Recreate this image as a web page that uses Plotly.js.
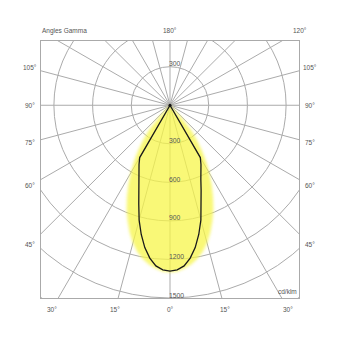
<!DOCTYPE html>
<html>
<head>
<meta charset="utf-8">
<script src="https://cdn.plot.ly/plotly-3.0.1.min.js"></script>
<style>
html,body{margin:0;padding:0;background:#fff;}
#chart .scatterlayer .trace:first-child path.js-fill{filter:blur(1.8px);}
</style>
</head>
<body>
<div id="chart" style="width:340px;height:340px"></div>
<script>
// Gamma angles (degrees from the downward vertical)
const gammaAngles = [0, 2.5, 5, 7.5, 10, 12.5, 15, 17.5, 20, 22.5, 25, 27.5, 30, 32.5, 35, 37.5, 40, 42.5, 45];
// Plane drawn as black line (cd/klm)
const planeLine = [1290, 1282, 1255, 1200, 1125, 1030, 925, 805, 705, 625, 570, 520, 470, 0, 0, 0, 0, 0, 0];
// Plane drawn as yellow filled area (cd/klm)
const planeFill = [1300, 1295, 1275, 1250, 1215, 1170, 1110, 1040, 960, 880, 790, 700, 610, 520, 430, 345, 260, 130, 0];
// Grid rings (cd/klm) and their labels
const ringValues = [300, 600, 900, 1200, 1500, 1800];
const ringLabelsBelow = [300, 600, 900, 1200, 1500];
const ringLabelsAbove = [300];
// Radial gamma lines
const spokeAngles = [0,15,30,45,60,75,90,105,120,135,150,165,180,195,210,225,240,255,270,285,300,315,330,345];
// Gamma labels around the frame
const rightGammaLabels = [0, 15, 30, 45, 60, 75, 90, 105, 120, 180];
const leftGammaLabels = [15, 30, 45, 60, 75, 90, 105];
const cornerTitle = 'Angles Gamma';
const unitLabel = 'cd/klm';

const XR = [-1000, 1000], YR = [-1500, 500];
const D = Math.PI / 180;
function closedCurve(g, r) {
  const xs = [], ys = [];
  for (let i = g.length - 1; i >= 0; i--) { xs.push(-r[i] * Math.sin(g[i] * D)); ys.push(-r[i] * Math.cos(g[i] * D)); }
  for (let i = 1; i < g.length; i++) { xs.push(r[i] * Math.sin(g[i] * D)); ys.push(-r[i] * Math.cos(g[i] * D)); }
  return {xs, ys};
}
const fillC = closedCurve(gammaAngles, planeFill);
const lineC = closedCurve(gammaAngles, planeLine);

const gridColor = '#ababab';
const shapes = [];
ringValues.forEach(r => shapes.push({type: 'circle', xref: 'x', yref: 'y', x0: -r, x1: r, y0: -r, y1: r,
  line: {color: gridColor, width: 1}, layer: 'below'}));
spokeAngles.forEach(a => shapes.push({type: 'line', xref: 'x', yref: 'y', x0: 0, y0: 0,
  x1: 2500 * Math.sin(a * D), y1: -2500 * Math.cos(a * D), line: {color: gridColor, width: 1}, layer: 'below'}));

// label ring just outside the frame (data units)
const LX = 1085, LT = 581, LB = 1589;
function px(x) { return (x - XR[0]) / (XR[1] - XR[0]); }
function py(y) { return (y - YR[0]) / (YR[1] - YR[0]); }
function labelPos(g, side) {
  const s = Math.sin(g * D) * side, c = -Math.cos(g * D);
  let t = Infinity;
  if (s > 1e-9) t = Math.min(t, LX / s);
  if (s < -1e-9) t = Math.min(t, LX / -s);
  if (c > 1e-9) t = Math.min(t, LT / c);
  if (c < -1e-9) t = Math.min(t, LB / -c);
  return [px(s * t), py(c * t)];
}
const txtFont = {family: 'Liberation Sans, Arial, sans-serif', size: 6.5, color: '#555'};
const ringFont = {family: 'Liberation Sans, Arial, sans-serif', size: 6.8, color: '#555'};
const annotations = [];
function addGamma(g, side) {
  const p = labelPos(g, side);
  annotations.push({x: p[0], y: p[1], xref: 'paper', yref: 'paper', text: g + '°', showarrow: false,
    xanchor: 'center', yanchor: 'middle', font: txtFont});
}
rightGammaLabels.forEach(g => addGamma(g, 1));
leftGammaLabels.forEach(g => addGamma(g, -1));
annotations.push({x: 0, y: py(LT), xref: 'paper', yref: 'paper', text: cornerTitle, showarrow: false,
  xanchor: 'left', yanchor: 'middle', xshift: -1, font: txtFont});
ringLabelsBelow.forEach(r => annotations.push({x: px(0), y: py(-r), xref: 'paper', yref: 'paper', text: String(r), showarrow: false,
  xanchor: 'left', yanchor: 'middle', xshift: -3, yshift: 3, font: ringFont}));
ringLabelsAbove.forEach(r => annotations.push({x: px(0), y: py(r), xref: 'paper', yref: 'paper', text: String(r), showarrow: false,
  xanchor: 'left', yanchor: 'middle', xshift: -3, yshift: 3, font: ringFont}));
annotations.push({x: 1, y: 0, xref: 'paper', yref: 'paper', text: unitLabel, showarrow: false,
  xanchor: 'right', yanchor: 'bottom', xshift: 0, yshift: 1, font: txtFont});

const data = [
  {type: 'scatter', mode: 'lines', x: fillC.xs, y: fillC.ys, fill: 'toself', fillcolor: 'rgba(247,245,72,0.74)',
   line: {width: 0, color: 'rgba(0,0,0,0)'}, hoverinfo: 'skip', showlegend: false},
  {type: 'scatter', mode: 'lines', x: lineC.xs, y: lineC.ys, line: {color: '#1a1a1a', width: 1.3}, hoverinfo: 'skip', showlegend: false},
  {type: 'scatter', mode: 'markers', x: [0], y: [0], marker: {color: '#111', size: 3}, hoverinfo: 'skip', showlegend: false}
];

const axisCommon = {showgrid: false, zeroline: false, showticklabels: false, ticks: '', showline: true, mirror: true,
  linecolor: '#aaaaaa', linewidth: 1, fixedrange: true};
const layout = {
  width: 340, height: 340,
  margin: {l: 41, r: 41, t: 41, b: 42},
  paper_bgcolor: '#fff', plot_bgcolor: '#fff',
  xaxis: Object.assign({range: XR}, axisCommon),
  yaxis: Object.assign({range: YR}, axisCommon),
  shapes, annotations, showlegend: false
};
Plotly.newPlot('chart', data, layout, {displayModeBar: false, staticPlot: true});
</script>
</body>
</html>
